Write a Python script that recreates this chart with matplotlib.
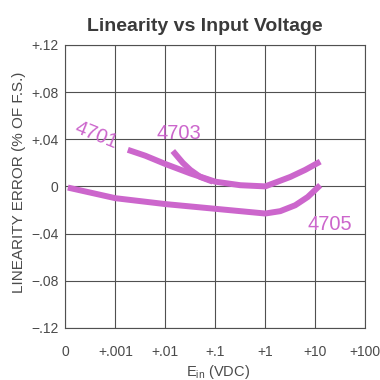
import matplotlib
matplotlib.use('Agg')
import matplotlib.pyplot as plt

# decade positions on the x axis: 0, .001, .01, .1, 1, 10, 100 volts
x_ticks = [0, 1, 2, 3, 4, 5, 6]
x_labels = ['0', '+.001', '+.01', '+.1', '+1', '+10', '+100']
y_ticks = [-0.12, -0.08, -0.04, 0, 0.04, 0.08, 0.12]
y_labels = ['\u2212.12', '\u2212.08', '\u2212.04', '0', '+.04', '+.08', '+.12']

# linearity error curves (% of full scale)
x_4701 = [1.25, 1.6, 2.0, 2.5, 3.0, 3.5, 4.0, 4.5, 4.8, 5.1]
y_4701 = [0.031, 0.026, 0.019, 0.011, 0.004, 0.001, 0.000, 0.008, 0.014, 0.021]

x_4703 = [2.15, 2.25, 2.35, 2.5, 2.7, 2.95]
y_4703 = [0.030, 0.025, 0.020, 0.014, 0.008, 0.004]

x_4705 = [0.05, 1.0, 2.0, 3.0, 3.5, 4.0, 4.3, 4.6, 4.85, 5.1]
y_4705 = [-0.001, -0.010, -0.015, -0.019, -0.021, -0.023, -0.021, -0.016, -0.009, 0.001]

plt.rcParams['font.family'] = ['Liberation Sans', 'DejaVu Sans']
plt.rcParams['mathtext.fontset'] = 'custom'
plt.rcParams['mathtext.rm'] = 'Liberation Sans'
plt.rcParams['mathtext.it'] = 'Liberation Sans'

txt = '#4a4a4a'
grid = '#505050'
ink = '#cc66cc'

fig = plt.figure(figsize=(3.8, 3.8), dpi=100)
ax = fig.add_axes([0.172, 0.137, 0.789, 0.745])

for xs, ys in [(x_4701, y_4701), (x_4703, y_4703), (x_4705, y_4705)]:
    ax.plot(xs, ys, color=ink, lw=4.3, solid_capstyle='butt', solid_joinstyle='round')

ax.set_xlim(0, 6)
ax.set_ylim(-0.12, 0.12)
ax.set_xticks(x_ticks)
ax.set_xticklabels(x_labels)
ax.set_yticks(y_ticks)
ax.set_yticklabels(y_labels)
ax.tick_params(axis='both', length=0, labelsize=10, colors=txt)
ax.tick_params(axis='x', pad=12)
ax.tick_params(axis='y', pad=5)
ax.grid(True, color=grid, lw=0.8)
ax.set_axisbelow(True)
for s in ax.spines.values():
    s.set_color(grid)
    s.set_linewidth(0.8)

ax.text(0.62, 0.043, '4701', color=ink, fontsize=14.5, rotation=-22, ha='center', va='center')
ax.text(2.27, 0.045, '4703', color=ink, fontsize=14.5, ha='center', va='center')
ax.text(5.3, -0.032, '4705', color=ink, fontsize=14.5, ha='center', va='center')

fig.text(0.05, 0.52, 'LINEARITY ERROR (% OF F.S.)', fontsize=11, color=txt,
         rotation=90, ha='center', va='center')
fig.text(0.575, 0.022, r'$\mathrm{E_{in}}$ (VDC)', fontsize=10.5, color=txt,
         ha='center', va='center')
fig.text(0.54, 0.93, 'Linearity vs Input Voltage', fontsize=14, fontweight='bold',
         color='#3a3a3a', ha='center', va='center')

fig.savefig('out.png', dpi=100, facecolor='white')
